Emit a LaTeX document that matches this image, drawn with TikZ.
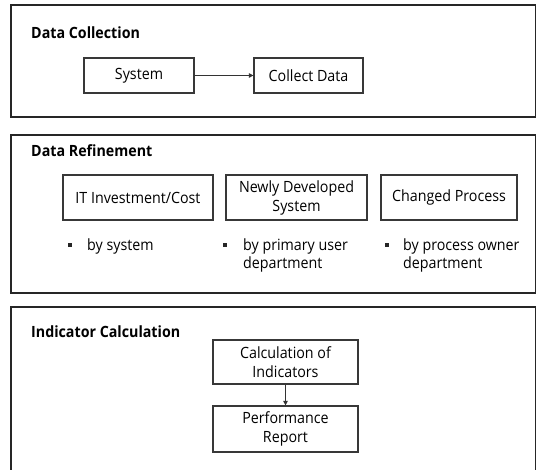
\documentclass[tikz,border=0pt]{standalone}
\usepackage{fontspec}
\setmainfont{Open Sans}[FakeStretch=0.92]
\usetikzlibrary{arrows.meta}
\begin{document}
\begin{tikzpicture}[x=1pt,y=-1pt,
  panel/.style={draw=black!85,line width=1.8pt},
  box/.style={draw=black!78,line width=1.2pt,inner sep=0pt,align=center,font=\fontsize{15.5}{19}\selectfont},
  ttl/.style={anchor=base west,inner sep=0pt,font=\fontsize{15.5}{18}\selectfont\bfseries},
  bul/.style={anchor=north west,inner sep=0pt,align=left,font=\fontsize{15.5}{18}\selectfont},
  dot/.style={fill=black!85,minimum size=4pt,inner sep=0pt},
  conn/.style={draw=black!80,line width=1.2pt,-{Triangle[length=4.5pt,width=4.5pt]}}]
\useasboundingbox (0,0) rectangle (537,470);
\clip (0,0) rectangle (537,470);
% panel 1
\draw[panel] (11,5) rectangle (535.5,117);
\node[ttl] (t1) at (31,39) {Data Collection};
\node[box,minimum width=110pt,minimum height=35pt] (sys) at (139,75.5) {System};
\node[box,minimum width=109pt,minimum height=35pt] (col) at (308.5,75.5) {Collect Data};
\draw[conn] (sys) -- (col);
% panel 2
\draw[panel] (11,135) rectangle (535.5,293);
\node[ttl] (t2) at (31,157) {Data Refinement};
\node[box,minimum width=150pt,minimum height=45pt] (it) at (138,197.5) {IT Investment/Cost};
\node[box,minimum width=141pt,minimum height=45pt] (nd) at (296.5,197.5) {Newly Developed\\System};
\node[box,minimum width=136pt,minimum height=45pt] (cp) at (449,197.5) {Changed Process};
\node[dot] (d1) at (70,245) {};
\node[bul] (b1) at (87,238.3) {by system};
\node[dot] (d2) at (225,245) {};
\node[bul] (b2) at (243,238.3) {by primary user\\department};
\node[dot] (d3) at (387,245) {};
\node[bul] (b3) at (403,238.3) {by process owner\\department};
% panel 3
\draw[panel] (11,600) -- (11,307) -- (535.5,307) -- (535.5,600);
\node[ttl] (t3) at (31,337.5) {Indicator Calculation};
\node[box,minimum width=145pt,minimum height=44pt] (calc) at (285.5,362) {Calculation of\\Indicators};
\node[box,minimum width=145pt,minimum height=46pt] (perf) at (285.5,429) {Performance\\Report};
\draw[conn] (calc) -- (perf);
\end{tikzpicture}
\end{document}
